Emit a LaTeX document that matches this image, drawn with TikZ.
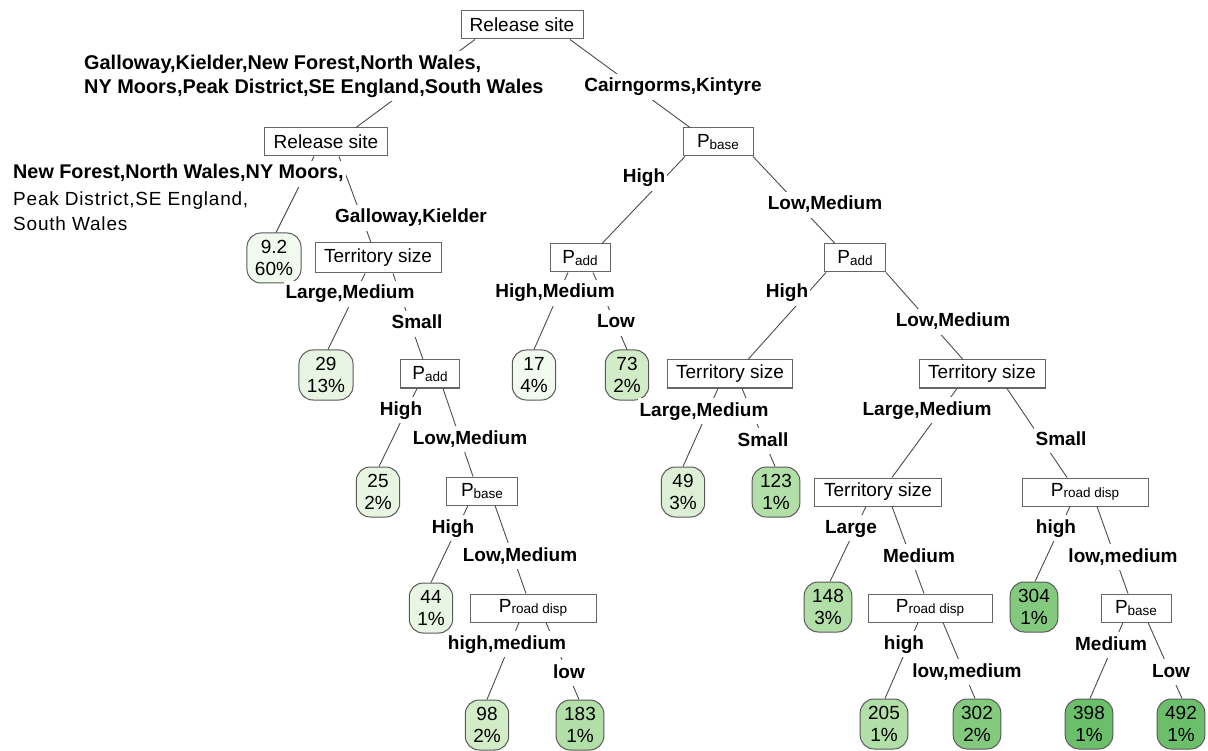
\documentclass[tikz,border=0pt]{standalone}
\usepackage{fontspec}
\setmainfont{Liberation Sans}
\usetikzlibrary{positioning}
\definecolor{gnA}{HTML}{F2F9EF}
\definecolor{gnB}{HTML}{E8F5E2}
\definecolor{gnC}{HTML}{DDF0D5}
\definecolor{gnD}{HTML}{D2ECC8}
\definecolor{gnE}{HTML}{B2DFA7}
\definecolor{gnF}{HTML}{84CA7E}
\definecolor{gnG}{HTML}{6CBF6A}
\newcommand{\psub}[1]{{\fontsize{13.5}{14}\selectfont\raisebox{-1.5pt}{#1}}}

\begin{document}
\begin{tikzpicture}[
  x=1pt, y=-1pt,
  split/.style={draw=black!60, fill=white, line width=1pt, inner sep=0pt, minimum height=28pt, font=\fontsize{19}{22}\selectfont},
  leaf/.style={draw=black!65, line width=1pt, rounded corners=14pt, align=center, inner xsep=8pt, inner ysep=3pt, minimum height=50pt, font=\fontsize{19}{22}\selectfont},
  lab/.style={fill=white, inner xsep=2pt, inner ysep=4pt, font=\bfseries\fontsize{19}{24}\selectfont},
  lbl/.style={lab, text height=14pt, text depth=4pt},
  br/.style={draw=black!70, line width=0.9pt},
]
  \useasboundingbox (0,0) rectangle (1208,751);

  \node[split, minimum width=122pt] (root) at (522,25) {Release site};
  \node[split, minimum width=123pt] (rs) at (326,142) {Release site};
  \node[split, minimum width=70pt] (pb) at (718,142) {P\psub{base}};
  \node[leaf, fill=gnA] (l1) at (274,258) {9.2\\60\%};
  \node[split, minimum width=126pt, minimum height=30pt] (ts) at (378,258) {Territory size};
  \node[split, minimum width=60pt] (pa) at (580,258) {P\psub{add}};
  \node[split, minimum width=61pt] (pa2) at (855,258) {P\psub{add}};
  \node[leaf, fill=gnB] (l2) at (326,375) {29\\13\%};
  \node[split, minimum width=59pt] (pa1) at (430,374) {P\psub{add}};
  \node[leaf, fill=gnA] (l3) at (534,375) {17\\4\%};
  \node[leaf, fill=gnD] (l4) at (627,375) {73\\2\%};
  \node[split, minimum width=125pt] (ts2) at (730,374) {Territory size};
  \node[split, minimum width=126pt] (ts3) at (982,374) {Territory size};
  \node[leaf, fill=gnB] (l5) at (378,492) {25\\2\%};
  \node[split, minimum width=71pt] (pb1) at (482,491) {P\psub{base}};
  \node[leaf, fill=gnC] (l6) at (683,492) {49\\3\%};
  \node[leaf, fill=gnE] (l7) at (776,492) {123\\1\%};
  \node[split, minimum width=127pt] (ts4) at (878,492) {Territory size};
  \node[split, minimum width=126pt] (pr) at (1085,492) {P\psub{road disp}};
  \node[leaf, fill=gnB] (l8) at (431,608) {44\\1\%};
  \node[split, minimum width=126pt] (pr1) at (533,608) {P\psub{road disp}};
  \node[leaf, fill=gnE] (l9) at (828,607) {148\\3\%};
  \node[split, minimum width=124pt] (pr2) at (930,608) {P\psub{road disp}};
  \node[leaf, fill=gnF] (l10) at (1034,607) {304\\1\%};
  \node[split, minimum width=70pt] (pb2) at (1136,608) {P\psub{base}};
  \node[leaf, fill=gnD] (l11) at (487,725) {98\\2\%};
  \node[leaf, fill=gnE] (l12) at (580,725) {183\\1\%};
  \node[leaf, fill=gnE] (l13) at (884,724) {205\\1\%};
  \node[leaf, fill=gnF] (l14) at (977,724) {302\\2\%};
  \node[leaf, fill=gnG] (l15) at (1089,724) {398\\1\%};
  \node[leaf, fill=gnG] (l16) at (1181,724) {492\\1\%};

  \draw[br] ([xshift=-47pt]root.south) -- ([xshift=30pt]rs.north);
  \draw[br] ([xshift=48pt]root.south) -- ([xshift=-28pt]pb.north);
  \draw[br] ([xshift=-12pt]rs.south) -- ([xshift=2pt]l1.north);
  \draw[br] ([xshift=13pt]rs.south) -- ([xshift=-7pt]ts.north);
  \draw[br] ([xshift=-13pt]ts.south) -- ([xshift=2pt]l2.north);
  \draw[br] ([xshift=15pt]ts.south) -- ([xshift=-7pt]pa1.north);
  \draw[br] ([xshift=-13pt]pa1.south) -- ([xshift=1pt]l5.north);
  \draw[br] ([xshift=13pt]pa1.south) -- ([xshift=-9pt]pb1.north);
  \draw[br] ([xshift=-14pt]pb1.south) -- (l8.north);
  \draw[br] ([xshift=13pt]pb1.south) -- ([xshift=-7pt]pr1.north);
  \draw[br] ([xshift=-14pt]pr1.south) -- (l11.north);
  \draw[br] ([xshift=13pt]pr1.south) -- ([xshift=-1pt]l12.north);
  \draw[br] ([xshift=-33pt]pb.south) -- ([xshift=22pt]pa.north);
  \draw[br] ([xshift=35pt]pb.south) -- ([xshift=-20pt]pa2.north);
  \draw[br] ([xshift=-12pt]pa.south) -- (l3.north);
  \draw[br] ([xshift=13pt]pa.south) -- (l4.north);
  \draw[br] ([xshift=-29pt]pa2.south) -- ([xshift=18pt]ts2.north);
  \draw[br] ([xshift=31pt]pa2.south) -- ([xshift=-19pt]ts3.north);
  \draw[br] ([xshift=-12pt]ts2.south) -- (l6.north);
  \draw[br] ([xshift=12pt]ts2.south) -- ([xshift=-1pt]l7.north);
  \draw[br] ([xshift=-25pt]ts3.south) -- ([xshift=14pt]ts4.north);
  \draw[br] ([xshift=25pt]ts3.south) -- ([xshift=-18pt]pr.north);
  \draw[br] ([xshift=-12pt]ts4.south) -- ([xshift=2pt]l9.north);
  \draw[br] ([xshift=14pt]ts4.south) -- ([xshift=-6pt]pr2.north);
  \draw[br] ([xshift=-12pt]pr2.south) -- ([xshift=1pt]l13.north);
  \draw[br] ([xshift=13pt]pr2.south) -- ([xshift=-2pt]l14.north);
  \draw[br] ([xshift=-15pt]pr.south) -- ([xshift=1pt]l10.north);
  \draw[br] ([xshift=12pt]pr.south) -- ([xshift=-8pt]pb2.north);
  \draw[br] ([xshift=-13pt]pb2.south) -- ([xshift=1pt]l15.north);
  \draw[br] ([xshift=12pt]pb2.south) -- ([xshift=1pt]l16.north);

  \node[lab, anchor=west, align=left, font=\bfseries\fontsize{19.9}{24}\selectfont] (lgal) at (82,76) {Galloway,Kielder,New Forest,North Wales,\\NY Moors,Peak District,SE England,South Wales};
  \node[lbl] (lck) at (673,87) {Cairngorms,Kintyre};
  \node[lbl, anchor=west, font=\bfseries\fontsize{19.8}{24}\selectfont] (lnf) at (11,174) {New Forest,North Wales,NY Moors,};
  \node[lab, anchor=west, align=left, font=\fontsize{19}{25}\selectfont\addfontfeature{LetterSpace=4.2}] (lnf2) at (11,211) {Peak District,SE England,\\South Wales};
  \node[lbl] (lgk) at (411,218) {Galloway,Kielder};
  \node[lbl] (lts1a) at (350,294) {Large,Medium};
  \node[lbl] (lts1b) at (417,324) {Small};
  \node[lbl] (lpa1a) at (401,410) {High};
  \node[lbl] (lpa1b) at (470,439) {Low,Medium};
  \node[lbl] (lpb1a) at (453,528) {High};
  \node[lbl] (lpb1b) at (520,556) {Low,Medium};
  \node[lbl] (lpr1a) at (507,644) {high,medium};
  \node[lbl] (lpr1b) at (569,673) {low};
  \node[lbl] (lpba) at (644,178) {High};
  \node[lbl] (lpbb) at (825,205) {Low,Medium};
  \node[lbl] (lpaa) at (555,293) {High,Medium};
  \node[lbl] (lpab) at (616,323) {Low};
  \node[lbl] (lpa2a) at (787,293) {High};
  \node[lbl] (lpa2b) at (953,322) {Low,Medium};
  \node[lbl] (lts2a) at (704,411) {Large,Medium};
  \node[lbl] (lts2b) at (763,441) {Small};
  \node[lbl] (lts3a) at (927,410) {Large,Medium};
  \node[lbl] (lts3b) at (1061,440) {Small};
  \node[lbl] (lts4a) at (851,528) {Large};
  \node[lbl] (lts4b) at (919,557) {Medium};
  \node[lbl] (lpr2a) at (904,644) {high};
  \node[lbl] (lpr2b) at (967,672) {low,medium};
  \node[lbl] (lpra) at (1056,528) {high};
  \node[lbl] (lprb) at (1123,557) {low,medium};
  \node[lbl] (lpb2a) at (1111,645) {Medium};
  \node[lbl] (lpb2b) at (1171,672) {Low};
\end{tikzpicture}
\end{document}
